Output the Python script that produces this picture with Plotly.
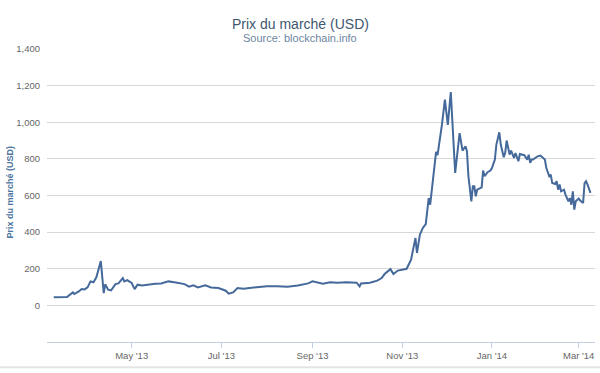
import plotly.graph_objects as go

dates = [
    "2013-03-09", "2013-03-18", "2013-03-22", "2013-03-23", "2013-03-26", "2013-03-28",
    "2013-03-30", "2013-04-01", "2013-04-03", "2013-04-05", "2013-04-07", "2013-04-08",
    "2013-04-10", "2013-04-12", "2013-04-13", "2013-04-15", "2013-04-17", "2013-04-20",
    "2013-04-22", "2013-04-25", "2013-04-26", "2013-04-28", "2013-05-01", "2013-05-03",
    "2013-05-05", "2013-05-08", "2013-05-12", "2013-05-17", "2013-05-21", "2013-05-26",
    "2013-05-30", "2013-06-04", "2013-06-06", "2013-06-09", "2013-06-12", "2013-06-15",
    "2013-06-20", "2013-06-24", "2013-06-29", "2013-07-04", "2013-07-06", "2013-07-09",
    "2013-07-12", "2013-07-16", "2013-07-20", "2013-07-25", "2013-08-01", "2013-08-08",
    "2013-08-15", "2013-08-22", "2013-08-29", "2013-09-01", "2013-09-05", "2013-09-08",
    "2013-09-13", "2013-09-18", "2013-09-24", "2013-10-01", "2013-10-03", "2013-10-04",
    "2013-10-10", "2013-10-15", "2013-10-18", "2013-10-20", "2013-10-24", "2013-10-26",
    "2013-10-29", "2013-11-03", "2013-11-04", "2013-11-07", "2013-11-10", "2013-11-11",
    "2013-11-13", "2013-11-15", "2013-11-17", "2013-11-19", "2013-11-20", "2013-11-24",
    "2013-11-25", "2013-11-28", "2013-11-30", "2013-12-02", "2013-12-04", "2013-12-07",
    "2013-12-10", "2013-12-12", "2013-12-14", "2013-12-15", "2013-12-16", "2013-12-18",
    "2013-12-19", "2013-12-20", "2013-12-21", "2013-12-22", "2013-12-25", "2013-12-26",
    "2013-12-27", "2013-12-29", "2013-12-31", "2014-01-01", "2014-01-03", "2014-01-04",
    "2014-01-06", "2014-01-07", "2014-01-09", "2014-01-10", "2014-01-11", "2014-01-13",
    "2014-01-14", "2014-01-16", "2014-01-17", "2014-01-19", "2014-01-20", "2014-01-23",
    "2014-01-25", "2014-01-26", "2014-01-27", "2014-01-28", "2014-01-29", "2014-02-01",
    "2014-02-03", "2014-02-06", "2014-02-07", "2014-02-09", "2014-02-10", "2014-02-11",
    "2014-02-13", "2014-02-14", "2014-02-15", "2014-02-16", "2014-02-17", "2014-02-19",
    "2014-02-20", "2014-02-22", "2014-02-23", "2014-02-24", "2014-02-25", "2014-02-26",
    "2014-02-27", "2014-03-01", "2014-03-02", "2014-03-04", "2014-03-05", "2014-03-06",
    "2014-03-07", "2014-03-09",
]

prices = [
    44, 45, 71, 62, 76, 89,
    87, 98, 131, 126, 153, 186,
    242, 67, 115, 86, 82, 116,
    120, 149, 131, 138, 122, 89,
    113, 108, 113, 118, 120, 131,
    126, 118, 116, 102, 109, 98,
    109, 98, 95, 80, 64, 71,
    95, 91, 95, 100, 105, 105,
    102, 109, 120, 131, 124, 118,
    126, 124, 126, 124, 104, 120,
    124, 135, 149, 171, 198, 171,
    190, 198, 200, 250, 368, 286,
    386, 423, 444, 586, 550, 838,
    820, 987, 1124, 985, 1165, 723,
    941, 845, 869, 842, 705, 568,
    650, 650, 596, 632, 645, 736,
    705, 727, 736, 750, 796, 878,
    945, 878, 809, 832, 900, 823,
    845, 805, 832, 787, 827, 820,
    796, 823, 778, 796, 796, 814,
    818, 796, 750, 705, 714, 668,
    663, 678, 632, 660, 623, 632,
    605, 568, 586, 550, 623, 523,
    568, 583, 572, 559, 668, 678,
    660, 614,
]

y_ticks = [0, 200, 400, 600, 800, 1000, 1200, 1400]
y_tick_labels = ["0", "200", "400", "600", "800", "1,000", "1,200", "1,400"]
x_ticks = ["2013-05-01", "2013-07-01", "2013-09-01", "2013-11-01", "2014-01-01", "2014-03-01"]
x_tick_labels = ["May '13", "Jul '13", "Sep '13", "Nov '13", "Jan '14", "Mar '14"]

title_text = "Prix du marché (USD)"
subtitle_text = "Source: blockchain.info"
y_title = "Prix du marché (USD)"

fig = go.Figure()
fig.add_trace(go.Scatter(
    x=dates, y=prices, mode="lines",
    line=dict(color="#44699a", width=2),
    hoverinfo="x+y", showlegend=False,
))

font_family = "Liberation Sans, Arial, sans-serif"

fig.update_layout(
    width=600, height=373,
    margin=dict(l=47, r=5, t=49, b=31),
    paper_bgcolor="white", plot_bgcolor="white",
    font=dict(family=font_family, size=9, color="#666666"),
    xaxis=dict(
        type="date", automargin=False,
        range=["2013-03-04 10:00", "2014-03-12 02:00"],
        tickvals=x_ticks, ticktext=x_tick_labels,
        showgrid=False, zeroline=False,
        showline=True, linecolor="#C0D0E0", linewidth=1,
        ticks="outside", ticklen=5, tickcolor="#C0D0E0",
        tickfont=dict(size=9.5, color="#666666"),
    ),
    yaxis=dict(
        range=[-200, 1400], automargin=False,
        tickvals=y_ticks, ticktext=y_tick_labels,
        showgrid=True, gridcolor="#D8D8D8", gridwidth=1,
        zeroline=False, showline=False,
        ticks="", ticklabelstandoff=6,
        tickfont=dict(size=9.5, color="#666666"),
    ),
    annotations=[
        dict(text=title_text, x=0.4617, xref="paper",
             y=1.0854, yref="paper", showarrow=False, xanchor="center", yanchor="middle",
             font=dict(size=14, color="#3E576F", family=font_family)),
        dict(text=subtitle_text, x=0.4617, xref="paper",
             y=1.037, yref="paper", showarrow=False, xanchor="center", yanchor="middle",
             font=dict(size=11, color="#6D869F", family=font_family)),
        dict(text="<b>" + y_title + "</b>", x=-0.0675, xref="paper",
             y=0.51, yref="paper", showarrow=False, textangle=-90,
             xanchor="center", yanchor="middle",
             font=dict(size=9, color="#4D759E", family=font_family)),
    ],
    shapes=[
        dict(type="line", xref="paper", yref="paper", x0=-0.0858, x1=1.0092,
             y0=-0.0864, y1=-0.0864, line=dict(color="#E4E4E4", width=2)),
    ],
)

fig.write_html("out.html", config={"displayModeBar": False},
               post_script="document.body.style.margin='0';")
